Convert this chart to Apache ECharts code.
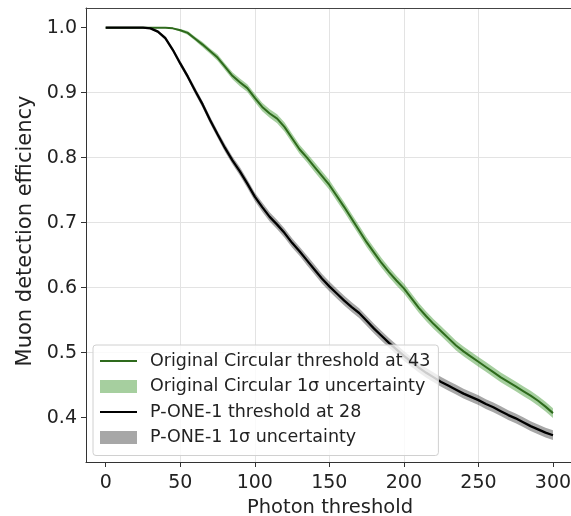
<!DOCTYPE html>
<html>
<head>
<meta charset="utf-8">
<script src="https://cdn.jsdelivr.net/npm/echarts@6/dist/echarts.min.js"></script>
<style>html,body{margin:0;padding:0;background:#fff;}#c{width:571px;height:516px;}</style>
</head>
<body>
<div id="c"></div>
<script>
// Photon threshold values (x)
const thresholds = [0,5,10,15,20,25,30,35,40,45,50,55,60,65,70,75,80,85,90,95,100,105,110,115,120,125,130,135,140,145,150,155,160,165,170,175,180,185,190,195,200,205,210,215,220,225,230,235,240,245,250,255,260,265,270,275,280,285,290,295,300];
// Original Circular efficiency
const circularEff = [1.0,1.0,1.0,1.0,1.0,1.0,1.0,1.0,1.0,0.999,0.996,0.992,0.983,0.974,0.964,0.954,0.940,0.926,0.916,0.907,0.892,0.878,0.868,0.860,0.847,0.830,0.813,0.800,0.786,0.772,0.758,0.741,0.724,0.706,0.688,0.670,0.654,0.638,0.624,0.611,0.599,0.584,0.569,0.556,0.544,0.533,0.522,0.511,0.502,0.494,0.486,0.478,0.470,0.462,0.455,0.448,0.441,0.434,0.426,0.417,0.407];
const circularSigma = [0,0,0,0,0,0,0,0,0,0.001,0.002,0.003,0.003,0.004,0.004,0.005,0.005,0.0055,0.006,0.006,0.0065,0.0065,0.0065,0.007,0.007,0.007,0.007,0.007,0.0075,0.0075,0.0075,0.0075,0.0075,0.0075,0.0075,0.0075,0.0075,0.0075,0.0075,0.0075,0.0075,0.0075,0.0075,0.0075,0.0075,0.0075,0.0075,0.0075,0.0075,0.0075,0.0075,0.0075,0.0075,0.0075,0.0075,0.0075,0.0075,0.0075,0.0075,0.0075,0.0075];
// P-ONE-1 efficiency
const poneEff = [1.0,1.0,1.0,1.0,1.0,1.0,0.999,0.994,0.984,0.966,0.945,0.925,0.903,0.882,0.858,0.836,0.815,0.796,0.779,0.760,0.740,0.724,0.709,0.697,0.684,0.669,0.656,0.642,0.628,0.614,0.602,0.591,0.580,0.570,0.561,0.549,0.537,0.526,0.515,0.505,0.495,0.486,0.477,0.469,0.462,0.455,0.449,0.443,0.437,0.432,0.427,0.421,0.416,0.410,0.404,0.399,0.393,0.387,0.382,0.377,0.373];
const poneSigma = [0,0,0,0,0,0,0.001,0.002,0.003,0.003,0.004,0.004,0.005,0.005,0.0055,0.0055,0.006,0.006,0.0065,0.0065,0.0065,0.007,0.007,0.007,0.007,0.007,0.007,0.0075,0.0075,0.0075,0.0075,0.0075,0.0075,0.0075,0.0075,0.0075,0.0075,0.0075,0.0075,0.0075,0.0075,0.0075,0.0075,0.0075,0.0075,0.0075,0.0075,0.0075,0.0075,0.0075,0.0075,0.0075,0.0075,0.0075,0.0075,0.0075,0.0075,0.0075,0.0075,0.0075,0.0075];
const xTicks = [0,50,100,150,200,250,300];
const yTicks = [0.4,0.5,0.6,0.7,0.8,0.9,1.0];
const names = ['Original Circular threshold at 43','Original Circular 1σ uncertainty','P-ONE-1 threshold at 28','P-ONE-1 1σ uncertainty'];

const GREEN = '#2e6a1c', GREEN_BAND = 'rgba(70,155,55,0.48)';
const BLACK = '#000000', GREY_BAND = 'rgba(60,60,60,0.45)';
const FONT = 'DejaVu Sans';
const LINE_ICON = 'path://M0,0L0,0ZM0,5.5H37V7.5H0ZM37,13L37,13Z';
const X_MIN = -13.2, X_MAX = 314.1;

function pts(ys){ return thresholds.map((x,i)=>[x, ys[i]]); }
function bandData(ys, s){ return thresholds.map((x,i)=>[x, ys[i]-s[i], ys[i]+s[i]]); }
function bandSeries(name, ys, s, color){
  const d = bandData(ys, s);
  return {
    name:name, type:'custom', data:d, clip:true, z:1,
    encode:{x:0, y:[1,2]},
    itemStyle:{color:color},
    renderItem:function(params, api){
      if (params.dataIndex !== 0) return null;
      const top = d.map(p=>api.coord([p[0], p[2]]));
      const bot = d.map(p=>api.coord([p[0], p[1]])).reverse();
      return {type:'polygon', shape:{points:top.concat(bot)}, style:{fill:color, stroke:null}};
    }
  };
}

const chart = echarts.init(document.getElementById('c'), null, {renderer:'canvas'});
chart.setOption({
  animation:false,
  backgroundColor:'#fff',
  grid:{left:86, top:8, bottom:54, right:-3, show:false, outerBoundsMode:'none', containLabel:false},
  xAxis:[{
    type:'value', min:X_MIN, max:X_MAX,
    name:'Photon threshold', nameLocation:'middle', nameGap:34,
    nameTextStyle:{fontFamily:FONT, fontSize:19.5, color:'#222'},
    axisLine:{show:true, onZero:false, lineStyle:{color:'#333', width:1}},
    axisTick:{show:true, inside:false, length:5, customValues:xTicks, lineStyle:{color:'#333'}},
    axisLabel:{customValues:xTicks, margin:12, fontFamily:FONT, fontSize:19, color:'#222'},
    splitLine:{show:true, showMinLine:false, showMaxLine:false, lineStyle:{color:'#e3e3e3', width:1}}
  },{
    type:'value', min:X_MIN, max:X_MAX, position:'top',
    axisLine:{show:true, onZero:false, lineStyle:{color:'#444', width:1.2}},
    axisTick:{show:false}, axisLabel:{show:false}, splitLine:{show:false}
  }],
  yAxis:{
    type:'value', min:0.3318, max:1.0303,
    name:'Muon detection efficiency', nameLocation:'middle', nameGap:38, nameRotate:90,
    nameTextStyle:{fontFamily:FONT, fontSize:21, color:'#222', padding:[0,0,0,8]},
    axisLine:{show:true, onZero:false, lineStyle:{color:'#333', width:1}},
    axisTick:{show:true, inside:false, length:5, customValues:yTicks, lineStyle:{color:'#333'}},
    axisLabel:{customValues:yTicks, margin:9, fontFamily:FONT, fontSize:19, color:'#222', formatter:v=>v.toFixed(1)},
    splitLine:{show:true, showMinLine:false, showMaxLine:false, lineStyle:{color:'#e3e3e3', width:1}}
  },
  legend:{
    left:93, top:345, orient:'vertical',
    itemWidth:37, itemHeight:13, itemGap:7.5,
    padding:[7,8,9,7],
    backgroundColor:'rgba(255,255,255,0.8)', borderColor:'#d0d0d0', borderWidth:1, borderRadius:3,
    textStyle:{fontFamily:FONT, fontSize:17.5, color:'#222', lineHeight:18, padding:[0,0,0,8]},
    data:[
      {name:names[0], icon:LINE_ICON, itemStyle:{color:GREEN}},
      {name:names[1], icon:'rect', itemStyle:{color:GREEN_BAND}},
      {name:names[2], icon:LINE_ICON, itemStyle:{color:BLACK}},
      {name:names[3], icon:'rect', itemStyle:{color:GREY_BAND}}
    ]
  },
  series:[
    bandSeries(names[1], circularEff, circularSigma, GREEN_BAND),
    bandSeries(names[3], poneEff, poneSigma, GREY_BAND),
    {name:names[0], type:'line', data:pts(circularEff), symbol:'none', lineStyle:{color:GREEN, width:2}, itemStyle:{color:GREEN}, z:3},
    {name:names[2], type:'line', data:pts(poneEff), symbol:'none', lineStyle:{color:BLACK, width:2.3}, itemStyle:{color:BLACK}, z:3}
  ]
});
</script>
</body>
</html>
